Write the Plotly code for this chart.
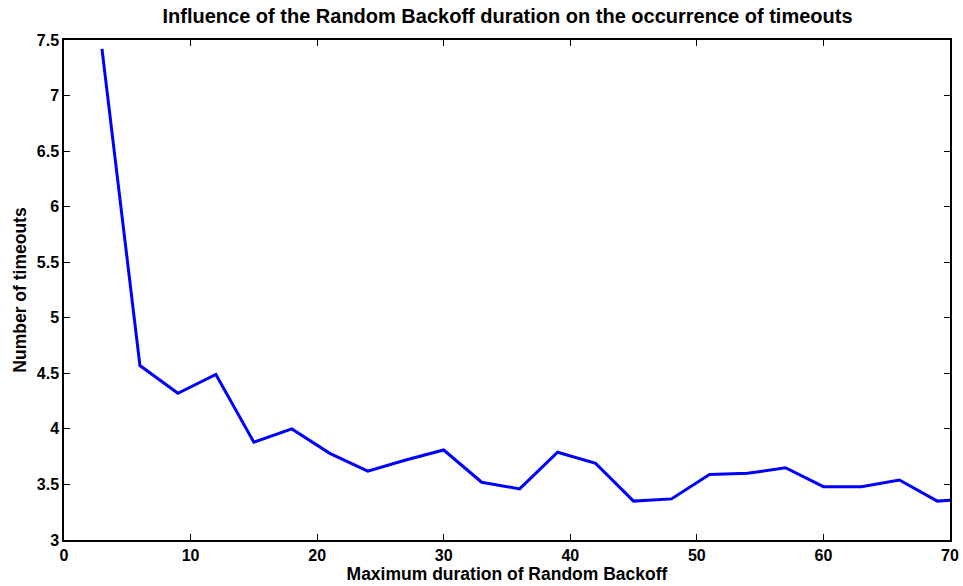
import plotly.graph_objects as go

backoff = [3, 6, 9, 12, 15, 18, 21, 24, 27, 30, 33, 36, 39, 42, 45, 48, 51, 54, 57, 60, 63, 66, 69, 72]
timeouts = [7.42, 4.57, 4.32, 4.49, 3.88, 4.00, 3.78, 3.62, 3.72, 3.81, 3.52, 3.46, 3.79, 3.69,
            3.35, 3.37, 3.59, 3.60, 3.65, 3.48, 3.48, 3.54, 3.35, 3.37]
xticks = [0, 10, 20, 30, 40, 50, 60, 70]
yticks = [3, 3.5, 4, 4.5, 5, 5.5, 6, 6.5, 7, 7.5]

title = "Influence of the Random Backoff duration on the occurrence of timeouts"
xlabel = "Maximum duration of Random Backoff"
ylabel = "Number of timeouts"

fam = "Liberation Sans, Arial, sans-serif"

fig = go.Figure(go.Scatter(x=backoff, y=timeouts, mode="lines",
                           line=dict(color="#0000FF", width=3)))

axis_common = dict(showline=True, linecolor="black", linewidth=1.5, mirror="ticks",
                   ticks="inside", ticklen=6, tickcolor="black", tickwidth=1,
                   showgrid=False, zeroline=False, automargin=False,
                   tickfont=dict(family=fam, size=16, color="black"))

fig.update_layout(
    width=963, height=586,
    paper_bgcolor="white", plot_bgcolor="white",
    margin=dict(l=64, r=13, t=40, b=46),
    font=dict(family=fam, color="black"),
    showlegend=False,
    title=dict(text="<b>" + title + "</b>", x=0.527, xanchor="center", y=0.972, yanchor="middle",
               automargin=False,
               font=dict(family=fam, size=20, color="black")),
    xaxis=dict(range=[0, 70], tickvals=xticks, ticktext=["<b>%g</b>" % v for v in xticks],
               title=dict(text="<b>" + xlabel + "</b>", standoff=4,
                          font=dict(family=fam, size=17.5, color="black")),
               **axis_common),
    yaxis=dict(range=[3, 7.5], tickvals=yticks, ticktext=["<b>%g</b>" % v for v in yticks],
               title=dict(text="<b>" + ylabel + "</b>", standoff=6,
                          font=dict(family=fam, size=17.5, color="black")),
               **axis_common),
)

fig.write_html("out.html")
